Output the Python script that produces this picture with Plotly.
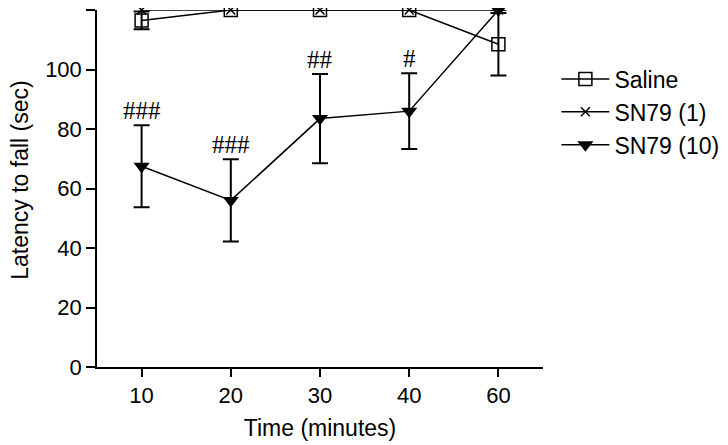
import plotly.graph_objects as go

time_labels = ["10", "20", "30", "40", "60"]

saline_mean = [116.5, 120, 120, 120, 108.5]
saline_err = [3, 0, 0, 0, 10.5]

sn1_mean = [120, 120, 120, 120, 120]

sn10_mean = [67.5, 56, 83.5, 86, 120]
sn10_err = [13.8, 13.8, 15, 12.7, 0]

sig_labels = ["###", "###", "##", "#", ""]

y_title = "Latency to fall (sec)"
x_title = "Time (minutes)"

FONT = "Liberation Sans, Arial, sans-serif"

fig = go.Figure()

fig.add_trace(go.Scatter(
    x=time_labels, y=saline_mean, name="Saline", mode="lines+markers", legendgroup="a",
    line=dict(color="black", width=1.5),
    marker=dict(symbol="square-open", size=13, color="black", line=dict(width=1.5)),
    error_y=dict(type="data", array=saline_err, color="black", thickness=2, width=8),
    cliponaxis=False,
))
fig.add_trace(go.Scatter(
    x=time_labels, y=sn1_mean, name="SN79 (1)", mode="lines+markers", legendgroup="b",
    line=dict(color="black", width=1.5),
    marker=dict(symbol="x-thin", size=9, color="black", line=dict(width=1.5, color="black")),
    cliponaxis=False,
))
fig.add_trace(go.Scatter(
    x=time_labels, y=sn10_mean, name="SN79 (10)", mode="lines+markers", legendgroup="c",
    line=dict(color="black", width=1.5),
    marker=dict(symbol="triangle-down", size=14, color="black"),
    error_y=dict(type="data", array=sn10_err, color="black", thickness=2, width=8),
    cliponaxis=False,
))

for i, (m, e, s) in enumerate(zip(sn10_mean, sn10_err, sig_labels)):
    if s:
        fig.add_annotation(x=i, y=m + e, xref="x", yref="y", text=s, showarrow=False,
                           yanchor="bottom", yshift=-1,
                           font=dict(family="Liberation Serif, Times New Roman, serif",
                                     size=25, color="black"))

fig.add_annotation(x=-0.173, y=0.524, xref="paper", yref="paper", text=y_title,
                   textangle=-90, showarrow=False, xanchor="center", yanchor="middle",
                   font=dict(family=FONT, size=23, color="black"))

fig.update_layout(
    width=728, height=445,
    margin=dict(l=89, r=193, t=2, b=86),
    plot_bgcolor="white", paper_bgcolor="white",
    font=dict(family=FONT, size=22, color="black"),
    showlegend=True,
    legend=dict(x=1.03, y=0.867, xanchor="left", yanchor="top",
                font=dict(family=FONT, size=23, color="black"),
                bgcolor="rgba(0,0,0,0)", tracegroupgap=0, itemwidth=48),
)
fig.update_xaxes(
    type="category", range=[-0.5, 4.5], automargin=False,
    showline=True, linecolor="black", linewidth=1.5,
    ticks="outside", ticklen=8, tickwidth=1.5, tickcolor="black",
    tickfont=dict(size=22, color="black"),
    showgrid=False, zeroline=False,
    title=dict(text=x_title, font=dict(size=23, color="black"), standoff=13),
)
fig.update_yaxes(
    range=[0, 120], tickvals=[0, 20, 40, 60, 80, 100, 120], automargin=False,
    showline=True, linecolor="black", linewidth=1.5,
    ticks="outside", ticklen=9, tickwidth=1.5, tickcolor="black",
    tickfont=dict(size=22, color="black"),
    showgrid=False, zeroline=False,
)

fig.write_html("out.html")
